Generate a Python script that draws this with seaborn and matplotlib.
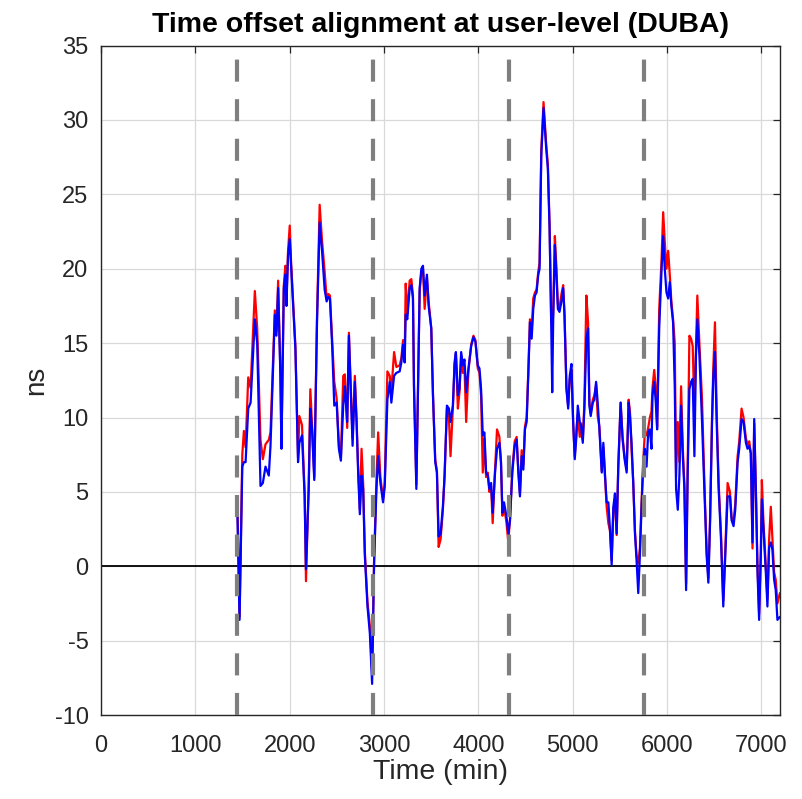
import pandas as pd
import seaborn as sns
import matplotlib
matplotlib.use('Agg')  # no display
import matplotlib.pyplot as plt

# time (min)
time_min = [
    1444, 1468, 1497, 1514, 1532, 1560, 1585, 1630, 1655, 1690, 1715, 1743, 1778, 1796,
    1842, 1859, 1877, 1901, 1912, 1937, 1954, 1965, 1982, 2000, 2014, 2060, 2088, 2102,
    2130, 2158, 2172, 2201, 2218, 2236, 2260, 2289, 2317, 2341, 2370, 2391, 2409, 2426,
    2451, 2472, 2497, 2521, 2542, 2567, 2584, 2609, 2627, 2648, 2666, 2690, 2708, 2725,
    2743, 2761, 2778, 2796, 2824, 2849, 2873, 2894, 2919, 2937, 2961, 2989, 3007, 3035,
    3060, 3077, 3106, 3130, 3165, 3183, 3201, 3218, 3229, 3246, 3271, 3289, 3306, 3317,
    3342, 3377, 3395, 3412, 3430, 3454, 3472, 3500, 3518, 3542, 3560, 3578, 3599, 3623,
    3641, 3666, 3687, 3704, 3729, 3747, 3761, 3782, 3799, 3817, 3835, 3852, 3870, 3894,
    3923, 3947, 3968, 3993, 4011, 4028, 4046, 4063, 4081, 4099, 4116, 4134, 4151, 4176,
    4197, 4222, 4239, 4254, 4271, 4296, 4317, 4335, 4359, 4384, 4405, 4423, 4440, 4458,
    4476, 4493, 4511, 4528, 4546, 4564, 4581, 4599, 4616, 4634, 4648, 4666, 4690, 4718,
    4736, 4754, 4771, 4782, 4792, 4810, 4824, 4842, 4859, 4880, 4898, 4912, 4933, 4951,
    4968, 4986, 5004, 5021, 5039, 5053, 5074, 5088, 5106, 5123, 5144, 5162, 5176, 5190,
    5212, 5229, 5247, 5264, 5282, 5307, 5324, 5342, 5359, 5377, 5394, 5412, 5430, 5447,
    5465, 5482, 5507, 5528, 5549, 5571, 5592, 5606, 5623, 5641, 5659, 5676, 5694, 5711,
    5729, 5746, 5764, 5782, 5799, 5817, 5834, 5845, 5863, 5880, 5894, 5916, 5940, 5958,
    5975, 5993, 6011, 6028, 6045, 6063, 6081, 6095, 6113, 6130, 6148, 6166, 6183, 6201,
    6218, 6236, 6254, 6271, 6289, 6306, 6320, 6342, 6370, 6395, 6419, 6437, 6455, 6476,
    6490, 6507, 6525, 6546, 6571, 6595, 6616, 6641, 6666, 6683, 6704, 6722, 6747, 6764,
    6789, 6810, 6835, 6852, 6870, 6887, 6905, 6923, 6940, 6958, 6975, 6993, 7004, 7021,
    7046, 7063, 7081, 7099, 7116, 7134, 7151, 7169, 7195,
]

# blue series (ns)
offset_blue = [
    4.0, -3.6, 6.7, 7.0, 7.0, 10.6, 11.0, 16.6, 15.0, 5.4, 5.6, 6.7, 6.1, 8.1,
    16.9, 15.5, 18.7, 12.8, 7.9, 18.7, 19.6, 17.5, 20.9, 22.0, 20.2, 14.6, 7.0, 8.3,
    8.8, 4.7, -0.2, 5.2, 10.6, 9.2, 5.8, 16.4, 23.1, 21.3, 18.6, 17.8, 18.1, 18.0,
    14.6, 10.8, 11.0, 7.9, 7.1, 10.8, 12.1, 9.7, 15.5, 11.5, 8.1, 12.4, 9.7, 6.3,
    3.5, 6.1, 5.2, 0.7, -2.7, -4.5, -7.9, 0.2, 5.2, 7.4, 5.6, 4.3, 5.4, 11.2,
    12.4, 11.0, 12.8, 13.0, 13.1, 13.7, 14.9, 13.7, 16.9, 16.6, 18.7, 18.9, 18.0, 11.9,
    5.2, 18.7, 20.0, 20.2, 18.2, 19.6, 17.5, 16.0, 11.5, 7.0, 6.3, 2.0, 2.2, 4.0,
    6.1, 10.8, 10.6, 9.7, 10.8, 13.7, 14.4, 11.5, 11.9, 14.4, 13.5, 13.9, 11.7, 13.3,
    14.8, 15.4, 15.1, 13.5, 13.3, 11.9, 8.8, 9.0, 6.3, 6.1, 5.2, 5.6, 3.6, 6.3,
    7.9, 8.3, 7.0, 3.6, 4.3, 3.4, 2.2, 3.1, 6.3, 8.1, 8.5, 6.3, 4.7, 7.4,
    6.5, 9.2, 9.7, 12.8, 16.4, 15.3, 17.3, 18.2, 18.4, 19.6, 20.0, 27.6, 30.8, 28.1,
    26.7, 22.7, 16.4, 11.7, 16.4, 21.6, 20.0, 17.3, 17.1, 17.8, 18.7, 16.9, 11.9, 10.6,
    12.8, 13.6, 9.7, 7.2, 8.8, 10.8, 9.7, 9.4, 8.3, 10.6, 15.3, 16.0, 10.8, 10.1,
    11.0, 11.2, 12.4, 11.0, 9.2, 6.3, 8.3, 6.1, 4.3, 4.3, 2.5, 0.1, 4.0, 4.9,
    2.2, 6.7, 11.0, 8.5, 7.2, 6.3, 11.0, 10.1, 8.3, 5.6, 2.2, 0.4, -1.8, 0.7,
    4.0, 6.7, 7.9, 6.7, 9.0, 9.2, 7.9, 11.5, 12.4, 11.0, 9.2, 16.0, 19.8, 22.2,
    20.0, 18.4, 18.0, 19.1, 17.5, 16.4, 12.0, 5.2, 3.8, 6.1, 10.8, 7.4, 5.2, -1.6,
    6.3, 11.9, 12.4, 12.6, 7.4, 14.2, 16.6, 14.2, 9.7, 5.2, 0.7, -1.1, 2.9, 9.7,
    12.8, 14.4, 9.7, 5.2, 1.8, -2.7, 0.7, 4.7, 4.7, 3.1, 2.7, 3.8, 7.0, 7.9,
    9.9, 9.7, 8.3, 7.9, 8.1, 7.6, 1.6, 9.9, 5.2, -0.4, -3.6, 0.7, 4.5, 2.5,
    -0.4, -2.7, 1.3, 1.6, 1.1, -0.9, -1.6, -3.6, -3.4,
]

# red series (ns)
offset_red = [
    4.6, -3.4, 7.5, 9.1, 8.0, 12.7, 12.0, 18.5, 16.0, 8.5, 7.2, 8.2, 8.5, 9.0,
    17.2, 15.8, 19.2, 13.0, 8.0, 18.9, 20.2, 17.8, 21.2, 22.9, 20.5, 14.8, 7.3, 10.1,
    9.5, 4.9, -1.0, 5.5, 11.9, 9.6, 6.0, 16.8, 24.3, 22.0, 19.8, 18.0, 18.3, 18.2,
    15.0, 12.4, 11.3, 8.1, 7.3, 12.8, 12.9, 9.3, 15.7, 11.8, 8.6, 12.8, 10.0, 6.6,
    3.8, 7.9, 5.6, 1.0, -2.4, -4.0, -7.0, 0.5, 5.8, 9.0, 6.0, 4.5, 5.6, 13.1,
    12.8, 11.8, 14.4, 13.4, 13.5, 14.0, 15.2, 14.0, 19.0, 17.0, 19.2, 19.3, 18.2, 12.2,
    5.5, 18.5, 19.8, 20.0, 17.3, 19.4, 17.8, 16.0, 11.6, 7.2, 6.4, 1.3, 1.8, 3.8,
    6.0, 10.6, 10.0, 7.4, 10.6, 13.5, 14.3, 10.6, 11.7, 14.2, 13.0, 13.4, 9.7, 13.1,
    14.9, 15.5, 15.2, 13.3, 13.0, 11.5, 6.3, 8.6, 6.0, 6.3, 5.0, 5.4, 2.9, 6.5,
    9.2, 8.7, 7.0, 3.4, 4.0, 3.0, 1.6, 3.3, 6.5, 8.4, 8.7, 6.4, 4.9, 7.8,
    6.8, 9.4, 10.0, 13.0, 16.6, 15.8, 18.0, 18.4, 18.6, 19.8, 20.4, 28.0, 31.2, 28.4,
    27.0, 23.0, 16.6, 16.0, 17.0, 22.2, 20.4, 17.6, 17.4, 18.3, 18.9, 17.0, 12.0, 10.8,
    12.6, 13.2, 9.6, 7.4, 9.2, 10.2, 8.7, 9.6, 8.5, 11.0, 18.2, 16.4, 11.0, 10.3,
    11.2, 11.5, 12.2, 10.1, 9.4, 6.4, 8.0, 6.0, 4.0, 2.9, 2.4, 0.4, 3.8, 4.4,
    2.1, 6.6, 11.0, 8.7, 7.4, 6.5, 11.2, 10.4, 7.8, 5.6, 2.4, 0.7, 0.2, 1.2,
    4.3, 7.0, 9.0, 8.8, 9.3, 10.0, 10.4, 12.0, 13.2, 12.0, 9.4, 17.3, 20.5, 23.8,
    21.8, 20.0, 21.2, 19.6, 17.8, 16.6, 15.0, 6.0, 9.7, 7.0, 12.1, 8.0, 5.5, -1.2,
    6.8, 15.5, 15.3, 14.8, 10.5, 14.8, 18.2, 15.0, 11.2, 5.6, 1.0, -0.8, 3.2, 10.0,
    13.5, 16.4, 10.5, 5.6, 2.2, -2.3, 1.0, 5.6, 5.0, 3.3, 3.0, 4.2, 7.4, 8.4,
    10.6, 10.0, 8.6, 8.2, 8.4, 7.6, 1.2, 9.6, 5.4, 0.0, -3.2, 1.0, 5.8, 3.0,
    0.0, -2.2, 1.8, 4.0, 1.8, -0.4, -0.9, -2.5, -1.8,
]

day_marks = [1440, 2880, 4320, 5760]
x_ticks = [0, 1000, 2000, 3000, 4000, 5000, 6000, 7000]
y_ticks = [-10, -5, 0, 5, 10, 15, 20, 25, 30, 35]

df = pd.concat([
    pd.DataFrame({'t': time_min, 'ns': offset_red, 'series': 'red'}),
    pd.DataFrame({'t': time_min, 'ns': offset_blue, 'series': 'blue'}),
])

sns.set_style("whitegrid")
plt.rcParams['font.family'] = ['Liberation Sans', 'DejaVu Sans']
plt.rcParams['axes.unicode_minus'] = False

fig = plt.figure(figsize=(8.02, 7.99), dpi=100)
ax = fig.add_axes([0.126, 0.105, 0.847, 0.838])

dark = '#262626'
ax.axhline(0, color='black', lw=1.3, zorder=1)
for d in day_marks:
    ax.axvline(d, color='#7f7f7f', lw=3, linestyle=(0, (5.3, 4.2)), zorder=3)

sns.lineplot(data=df, x='t', y='ns', hue='series', palette={'red': 'red', 'blue': 'blue'},
             hue_order=['red', 'blue'], estimator=None, sort=False, lw=1.6,
             legend=False, ax=ax, zorder=2)

ax.set_xlim(0, 7200)
ax.set_ylim(-10, 35)
ax.set_xticks(x_ticks)
ax.set_yticks(y_ticks)
ax.grid(True, color='#d9d9d9', lw=0.9)
ax.set_axisbelow(True)
for s in ax.spines.values():
    s.set_color(dark)
    s.set_linewidth(1.0)
ax.tick_params(axis='both', direction='in', top=True, right=True, length=5,
               width=0.9, color=dark, labelcolor=dark, labelsize=17)
ax.tick_params(axis='x', pad=14)
ax.tick_params(axis='y', pad=9)

ax.set_xlabel('Time (min)', fontsize=20.5, color=dark, labelpad=2)
ax.set_ylabel('ns', fontsize=20, color=dark, labelpad=4)
ax.set_title('Time offset alignment at user-level (DUBA)', fontsize=20.5,
             fontweight='bold', color='black', pad=10)

fig.savefig('out.png', dpi=100, facecolor='white')
plt.close(fig)
